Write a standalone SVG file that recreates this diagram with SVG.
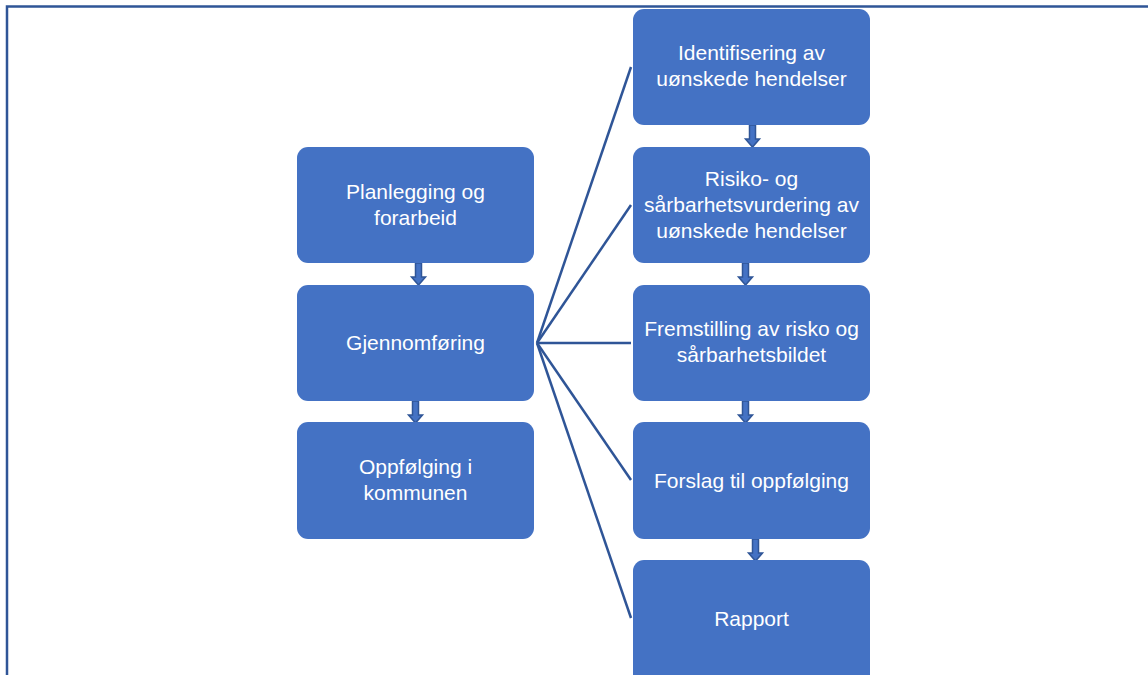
<svg xmlns="http://www.w3.org/2000/svg" width="1148" height="675" viewBox="0 0 1148 675">
<style>
.box{fill:#4472c4;}
.t{font-family:"Liberation Sans",Arial,sans-serif;font-size:21px;fill:#ffffff;text-anchor:middle;}
.ln{stroke:#2f5597;stroke-width:2.5;fill:none;}
.ar{fill:#4472c4;stroke:#2f5597;stroke-width:1.5;}
</style>
<rect width="1148" height="675" fill="#ffffff"/>
<path d="M7,675 V6.5 H1148" fill="none" stroke="#2f5597" stroke-width="2.5"/>
<g id="connectors">
<line class="ln" x1="537" y1="343" x2="631" y2="67"/>
<line class="ln" x1="537" y1="343" x2="631" y2="205"/>
<line class="ln" x1="537" y1="343" x2="631" y2="343"/>
<line class="ln" x1="537" y1="343" x2="631" y2="480"/>
<line class="ln" x1="537" y1="343" x2="631" y2="618"/>
<path class="ar" d="M415.5,263 h6 v14 h4 l-7,8 l-7,-8 h4 z"/>
<path class="ar" d="M412.5,401 h6 v14 h4 l-7,8 l-7,-8 h4 z"/>
<path class="ar" d="M749.5,125 h6 v14 h4 l-7,8 l-7,-8 h4 z"/>
<path class="ar" d="M742.5,263 h6 v14 h4 l-7,8 l-7,-8 h4 z"/>
<path class="ar" d="M742.5,401 h6 v14 h4 l-7,8 l-7,-8 h4 z"/>
<path class="ar" d="M752.5,539 h6 v14 h4 l-7,8 l-7,-8 h4 z"/>
</g>
<g id="n-planlegging">
<rect class="box" x="297" y="147" width="237" height="116" rx="11"/>
<text class="t" x="415.5" y="199">Planlegging og</text>
<text class="t" x="415.5" y="225">forarbeid</text>
</g>
<g id="n-gjennomforing">
<rect class="box" x="297" y="285" width="237" height="116" rx="11"/>
<text class="t" x="415.5" y="350">Gjennomføring</text>
</g>
<g id="n-oppfolging">
<rect class="box" x="297" y="422" width="237" height="117" rx="11"/>
<text class="t" x="415.5" y="474">Oppfølging i</text>
<text class="t" x="415.5" y="500">kommunen</text>
</g>
<g id="n-identifisering">
<rect class="box" x="633" y="9" width="237" height="116" rx="11"/>
<text class="t" x="751.5" y="60">Identifisering av</text>
<text class="t" x="751.5" y="86">uønskede hendelser</text>
</g>
<g id="n-risiko">
<rect class="box" x="633" y="147" width="237" height="116" rx="11"/>
<text class="t" x="751.5" y="186">Risiko- og</text>
<text class="t" x="751.5" y="212">sårbarhetsvurdering av</text>
<text class="t" x="751.5" y="238">uønskede hendelser</text>
</g>
<g id="n-fremstilling">
<rect class="box" x="633" y="285" width="237" height="116" rx="11"/>
<text class="t" x="751.5" y="336">Fremstilling av risko og</text>
<text class="t" x="751.5" y="362">sårbarhetsbildet</text>
</g>
<g id="n-forslag">
<rect class="box" x="633" y="422" width="237" height="117" rx="11"/>
<text class="t" x="751.5" y="488">Forslag til oppfølging</text>
</g>
<g id="n-rapport">
<rect class="box" x="633" y="560" width="237" height="130" rx="11"/>
<text class="t" x="751.5" y="626">Rapport</text>
</g>
</svg>
